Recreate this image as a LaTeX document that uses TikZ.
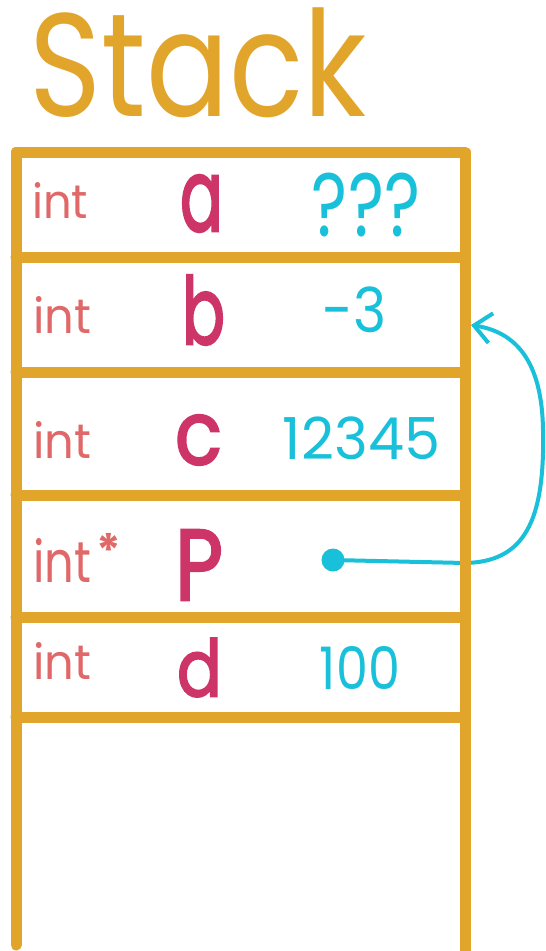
\documentclass[tikz,border=0pt]{standalone}
\usepackage{fontspec}
\setmainfont{Poppins}
\newfontfamily\namefont{Poppins}[BoldFont={Poppins},BoldFeatures={FakeBold=2.5}]
\usepackage{graphicx}
\usetikzlibrary{arrows.meta}
\definecolor{frameorange}{RGB}{226,165,43}
\definecolor{varname}{RGB}{205,53,105}
\definecolor{typered}{RGB}{224,104,104}
\definecolor{valcyan}{RGB}{25,192,218}
% scale a piece of text to an exact width and total height (in pt)
\newcommand\fitbox[3]{\resizebox*{#1pt}{#2pt}{#3}}

\begin{document}
\begin{tikzpicture}[x=1pt,y=-1pt,
  frameline/.style={draw=frameorange,line width=11pt,line cap=round,line join=round},
  lbl/.style={inner sep=0pt,outer sep=0pt},
  typetxt/.style={lbl,text=typered},
  nametxt/.style={lbl,text=varname,font=\namefont\bfseries},
  valtxt/.style={lbl,text=valcyan},
  pointer/.style={draw=valcyan,line width=4pt,line cap=round}]
\fill[white] (0,0) rectangle (546,951);
\useasboundingbox (0,0) rectangle (546,951);

% title
\node[lbl,text=frameorange] (title) at (198.5,63) {\fitbox{337}{110}{Stack}};

% types
\node[typetxt] (ta) at (60,200) {\fitbox{56}{36}{int}};
\node[typetxt] (tb) at (62,315) {\fitbox{58}{37}{int}};
\node[typetxt] (tc) at (62,440) {\fitbox{58}{37}{int}};
\node[typetxt] (tp) at (62,560) {\fitbox{58}{44}{int}};
\node[typetxt,anchor=north,font=\bfseries\fontsize{46}{46}\selectfont] (tpstar) at (109,533) {*};
\node[typetxt] (td) at (62,661) {\fitbox{58}{37}{int}};

% variable names
\node[nametxt] (na) at (201.5,203.5) {\fitbox{43}{57}{a}};
\node[nametxt] (nb) at (203.5,310) {\fitbox{43}{70}{b}};
\node[nametxt] (nc) at (198.5,440) {\fitbox{47}{50}{c}};
\node[nametxt] (np) at (199,565) {\fitbox{48}{70}{P}};
\node[nametxt] (nd) at (199.5,667.5) {\fitbox{45}{59}{d}};

% values
\node[valtxt] (va) at (366,205) {\fitbox{108}{64}{???}};
\node[valtxt] (vb) at (355,310) {\fitbox{64}{46}{-3}};
\node[valtxt] (vc) at (361.5,438.5) {\fitbox{157}{43}{12345}};
\node[valtxt] (vd) at (360,668) {\fitbox{80}{43}{100}};

% pointer p -> b
\node[circle,fill=valcyan,inner sep=0pt,minimum size=23pt] (dot) at (333,560) {};
\coordinate (exit) at (465,563);
\coordinate (far) at (543,430);
\coordinate (tip) at (471,325);
\draw[pointer,-{Straight Barb[length=17pt,width=30pt]}]
  (dot) -- (exit) .. controls (525,562) and (545,520) .. (far)
  .. controls (542,360) and (515,332) .. (tip);

% stack frame
\draw[frameline] (16,945) -- (16,152) -- (465,152) -- (465,965);
\foreach \yy in {257,372,495,617,717}
  \draw[frameline] (16,\yy) -- (465,\yy);
\end{tikzpicture}
\end{document}
